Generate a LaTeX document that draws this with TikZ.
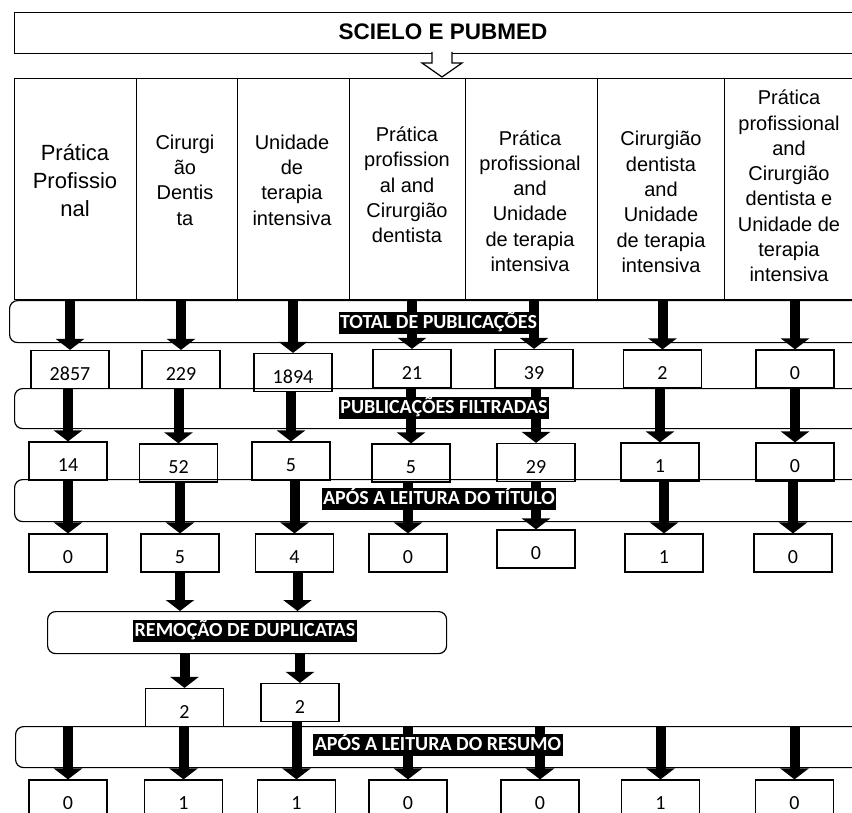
\documentclass[tikz,border=0pt]{standalone}
\usepackage{fontspec}
\setmainfont{Liberation Sans}
\newfontfamily\calibrifont{Carlito}
\usetikzlibrary{arrows.meta}

\tikzset{
    cell/.style={draw, line width=1.2pt, anchor=north west, minimum height=221pt, inner sep=0pt},
    celltext/.style={align=center, inner sep=0pt, font=\fontsize{20}{25.3}\selectfont},
    band/.style={draw, line width=1.2pt, rounded corners=8pt, anchor=north west, inner sep=0pt},
    bandlabel/.style={fill=black, text=white, inner xsep=1.5pt, inner ysep=1pt, text height=15pt, text depth=5pt, font=\calibrifont\bfseries\fontsize{20}{24}\selectfont},
    numbox/.style={draw, line width=1.2pt, minimum width=78pt, minimum height=38pt, inner sep=0pt, text height=21pt, text depth=0pt, font=\calibrifont\fontsize{20}{24}\selectfont},
    bigarrow/.style={line width=10pt, -{Triangle[width=28pt,length=11pt]}},
}

\begin{document}
\begin{tikzpicture}[x=1pt, y=-1pt]
    \useasboundingbox[fill=white] (0,0) rectangle (852,813);

    % fonte:
    \node[draw, line width=1.2pt, anchor=north west, minimum width=856pt, minimum height=41pt] (fonte) at (14,12) {};
    \node[font=\bfseries\fontsize{22.5}{26}\selectfont] (fontetxt) at (443,32) {SCIELO E PUBMED};
    \coordinate (s) at (442,52);
    \fill[white] (s) ++(-10,-1) -- ++(0,12) -- ++(-10,0) -- ++(20,14) -- ++(20,-14) -- ++(-10,0) -- ++(0,-12) -- cycle;
    \draw[line width=1.2pt, line join=miter] (s) ++(-10,0) -- ++(0,11) -- ++(-10,0) -- ++(20,14) -- ++(20,-14) -- ++(-10,0) -- ++(0,-11);

    % descritores:
    \node[cell, minimum width=122pt] (cab1) at (14,78) {};
    \node[cell, minimum width=101pt] (cab2) at (136,78) {};
    \node[cell, minimum width=112pt] (cab3) at (237,78) {};
    \node[cell, minimum width=116pt] (cab4) at (349,78) {};
    \node[cell, minimum width=132pt] (cab5) at (465,78) {};
    \node[cell, minimum width=127pt] (cab6) at (597,78) {};
    \node[cell, minimum width=132pt] (cab7) at (724,78) {};
    \node[celltext, font=\fontsize{22}{28}\selectfont] (txt1) at (75,181) {Prática\\Profissio\\nal};
    \node[celltext] (txt2) at (185,180) {Cirurgi\\ão\\Dentis\\ta};
    \node[celltext] (txt3) at (292,180) {Unidade\\de\\terapia\\intensiva};
    \node[celltext] (txt4) at (407,185) {Prática\\profission\\al and\\Cirurgião\\dentista};
    \node[celltext] (txt5) at (530,201) {Prática\\profissional\\and\\Unidade\\de terapia\\intensiva};
    \node[celltext] (txt6) at (661,202) {Cirurgião\\dentista\\and\\Unidade\\de terapia\\intensiva};
    \node[celltext] (txt7) at (789,186) {Prática\\profissional\\and\\Cirurgião\\dentista e\\Unidade de\\terapia\\intensiva};

    % etapas:
    \node[band, minimum width=861pt, minimum height=42pt] (total) at (9,300) {};
    \node[band, minimum width=856pt, minimum height=40pt] (filtro) at (14,388) {};
    \node[band, minimum width=856pt, minimum height=42pt] (titulo) at (14,479) {};
    \node[band, minimum width=399pt, minimum height=42pt] (dupl) at (47,611) {};
    \node[band, minimum width=856pt, minimum height=41pt] (resumo) at (15,726) {};

    % total de publicacoes:
    \node[numbox] (a1) at (70,369.5) {2857};
    \node[numbox] (a2) at (181,369.5) {229};
    \node[numbox] (a3) at (293,372.5) {1894};
    \node[numbox] (a4) at (412,368.5) {21};
    \node[numbox] (a5) at (534,368.5) {39};
    \node[numbox] (a6) at (662.5,369) {2};
    \node[numbox] (a7) at (795,369) {0};

    % publicacoes filtradas:
    \node[numbox] (b1) at (68,461) {14};
    \node[numbox] (b2) at (178.5,463) {52};
    \node[numbox] (b3) at (291,461) {5};
    \node[numbox] (b4) at (411,463) {5};
    \node[numbox] (b5) at (536,462.5) {29};
    \node[numbox] (b6) at (660,462) {1};
    \node[numbox] (b7) at (795,462) {0};

    % apos o titulo:
    \node[numbox] (c1) at (68,553) {0};
    \node[numbox] (c2) at (180,553) {5};
    \node[numbox] (c3) at (294.5,553) {4};
    \node[numbox] (c4) at (408,553) {0};
    \node[numbox] (c5) at (536,549) {0};
    \node[numbox] (c6) at (664,553) {1};
    \node[numbox] (c7) at (793,553) {0};

    % sem duplicatas:
    \node[numbox] (d1) at (184.5,707.5) {2};
    \node[numbox] (d2) at (300,702.5) {2};

    % apos o resumo:
    \node[numbox] (e1) at (68,799) {0};
    \node[numbox] (e2) at (183.5,799) {1};
    \node[numbox] (e3) at (296.5,799) {1};
    \node[numbox] (e4) at (408,799) {0};
    \node[numbox] (e5) at (540,799) {0};
    \node[numbox] (e6) at (660.5,799) {1};
    \node[numbox] (e7) at (794.5,799) {0};

    % arrows:
    \draw[bigarrow] (a1.north |- cab1.south) -- (a1.north);
    \draw[bigarrow] (a2.north |- cab2.south) -- (a2.north);
    \draw[bigarrow] (a3.north |- cab3.south) -- (a3.north);
    \draw[bigarrow] (a4.north |- cab4.south) -- (a4.north);
    \draw[bigarrow] (a5.north |- cab5.south) -- (a5.north);
    \draw[bigarrow] (a6.north |- cab6.south) -- (a6.north);
    \draw[bigarrow] (a7.north |- cab7.south) -- (a7.north);

    \draw[bigarrow] (b1.north |- a1.south) -- (b1.north);
    \draw[bigarrow] (b2.north |- a2.south) -- (b2.north);
    \draw[bigarrow] (b3.north |- a3.south) -- (b3.north);
    \draw[bigarrow] (b4.north |- a4.south) -- (b4.north);
    \draw[bigarrow] (b5.north |- a5.south) -- (b5.north);
    \draw[bigarrow] (b6.north |- a6.south) -- (b6.north);
    \draw[bigarrow] (b7.north |- a7.south) -- (b7.north);

    \draw[bigarrow] (c1.north |- b1.south) -- (c1.north);
    \draw[bigarrow] (c2.north |- b2.south) -- (c2.north);
    \draw[bigarrow] (c3.north |- b3.south) -- (c3.north);
    \draw[bigarrow] (c4.north |- b4.south) -- (c4.north);
    \draw[bigarrow] (c5.north |- b5.south) -- (c5.north);
    \draw[bigarrow] (c6.north |- b6.south) -- (c6.north);
    \draw[bigarrow] (c7.north |- b7.south) -- (c7.north);

    \draw[bigarrow] (c2.south) -- (c2.south |- dupl.north);
    \draw[bigarrow] ([xshift=3pt]c3.south) -- ([xshift=3pt]c3.south |- dupl.north);
    \draw[bigarrow] (d1.north |- dupl.south) -- (d1.north);
    \draw[bigarrow] (d2.north |- dupl.south) -- (d2.north);

    \draw[bigarrow] (e1.north |- resumo.north) -- (e1.north);
    \draw[bigarrow] (e2.north |- d1.south) -- (e2.north);
    \draw[bigarrow] (e3.north |- d2.south) -- (e3.north);
    \draw[bigarrow] (e4.north |- resumo.north) -- (e4.north);
    \draw[bigarrow] (e5.north |- resumo.north) -- (e5.north);
    \draw[bigarrow] (e6.north |- resumo.north) -- (e6.north);
    \draw[bigarrow] (e7.north |- resumo.north) -- (e7.north);

    % labels:
    \node[bandlabel] (totaltxt) at (438.5,323) {TOTAL DE PUBLICAÇÕES};
    \node[bandlabel] (filtrotxt) at (444,408) {PUBLICAÇÕES FILTRADAS};
    \node[bandlabel] (titulotxt) at (439,499) {APÓS A LEITURA DO TÍTULO};
    \node[bandlabel] (dupltxt) at (245,631) {REMOÇÃO DE DUPLICATAS};
    \node[bandlabel] (resumotxt) at (438,745) {APÓS A LEITURA DO RESUMO};
\end{tikzpicture}
\end{document}
